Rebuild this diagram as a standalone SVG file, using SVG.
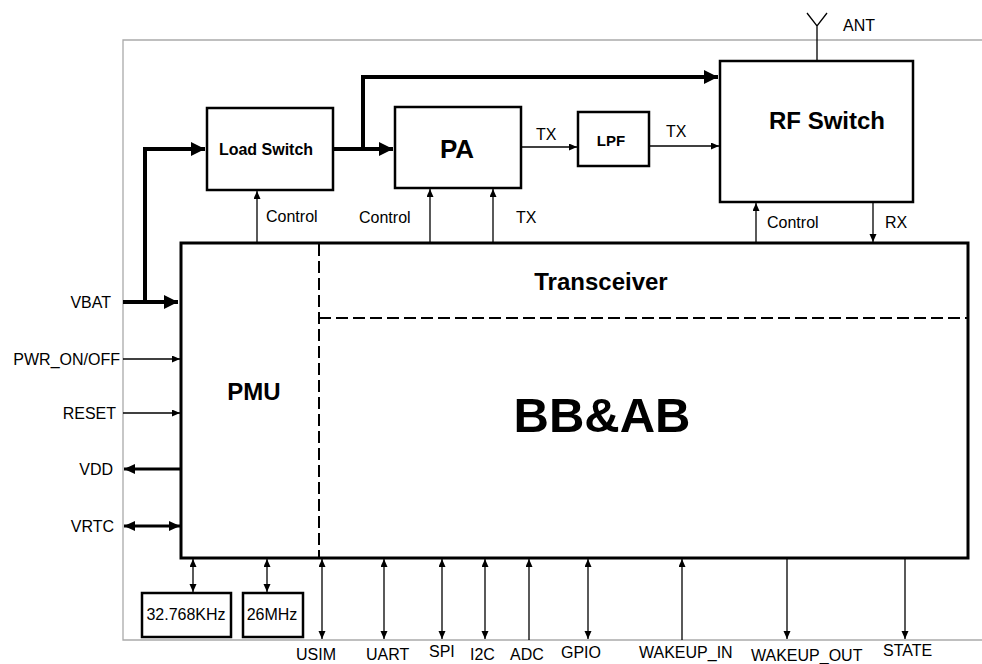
<svg xmlns="http://www.w3.org/2000/svg" width="982" height="664" viewBox="0 0 982 664">
<defs>
<style>
text{font-family:"Liberation Sans",Arial,sans-serif;fill:#000}
.lbl{font-size:16px}
.bt{font-weight:bold;text-anchor:middle}
.box{fill:#fff;stroke:#000;stroke-width:2.5}
.thin{fill:none;stroke:#000;stroke-width:1.3}
.mid{fill:none;stroke:#000;stroke-width:3}
.thick{fill:none;stroke:#000;stroke-width:4}
.dash{fill:none;stroke:#000;stroke-width:2;stroke-dasharray:12 5}
</style>
<marker id="a" markerUnits="userSpaceOnUse" markerWidth="9" markerHeight="8" refX="8" refY="3.5" orient="auto-start-reverse"><path d="M0,0 L8,3.5 L0,7 z" fill="#000"/></marker>
<marker id="m" markerUnits="userSpaceOnUse" markerWidth="12" markerHeight="11" refX="11" refY="5" orient="auto-start-reverse"><path d="M0,0 L11,5 L0,10 z" fill="#000"/></marker>
<marker id="b" markerUnits="userSpaceOnUse" markerWidth="15" markerHeight="15" refX="14" refY="7" orient="auto-start-reverse"><path d="M0,0 L14,7 L0,14 z" fill="#000"/></marker>
</defs>
<rect width="982" height="664" fill="#fff"/>
<path d="M982,40 H123 V640 H982" fill="none" stroke="#aaa" stroke-width="1.3"/>

<g id="main">
<rect x="181" y="243" width="787" height="315" fill="#fff" stroke="#000" stroke-width="3"/>
<path class="dash" d="M319,244 V557"/>
<path class="dash" d="M319,318 H967"/>
<text x="254" y="400" class="bt" font-size="24">PMU</text>
<text x="601" y="290" class="bt" font-size="24">Transceiver</text>
<text x="602" y="432" class="bt" font-size="49">BB&amp;AB</text>
</g>

<g id="loadswitch">
<rect class="box" x="207" y="108" width="126" height="82"/>
<text x="266" y="155" class="bt" font-size="16">Load Switch</text>
</g>
<g id="pa">
<rect class="box" x="395" y="107" width="126" height="81"/>
<text x="457" y="158" class="bt" font-size="26">PA</text>
</g>
<g id="lpf">
<rect class="box" x="578" y="112" width="71" height="54"/>
<text x="611" y="146" class="bt" font-size="15">LPF</text>
</g>
<g id="rfswitch">
<rect class="box" x="720" y="61" width="193" height="141"/>
<text x="827" y="129" class="bt" font-size="24">RF Switch</text>
</g>
<g id="ant">
<path class="thin" d="M817,61 V26 M807,13 L817,26 L827,13"/>
<text x="843" y="31" class="lbl">ANT</text>
</g>
<g id="xtal32">
<rect class="box" x="142" y="593" width="89" height="44"/>
<text x="186" y="620" class="lbl" text-anchor="middle">32.768KHz</text>
</g>
<g id="xtal26">
<rect class="box" x="243" y="593" width="60" height="44"/>
<text x="272" y="620" class="lbl" text-anchor="middle">26MHz</text>
</g>

<g id="connectors">
<path class="thick" d="M123,302 H178" marker-end="url(#b)"/>
<path class="thick" d="M145,302 V149 H205" marker-end="url(#b)"/>
<path class="thick" d="M333,149 H393" marker-end="url(#b)"/>
<path class="thick" d="M363,149 V77 H718" marker-end="url(#b)"/>
<path class="thin" d="M521,147 H577" marker-end="url(#a)"/>
<path class="thin" d="M649,146 H719" marker-end="url(#a)"/>
<path class="thin" d="M257,242 V191" marker-end="url(#a)"/>
<path class="thin" d="M430,242 V189" marker-end="url(#a)"/>
<path class="thin" d="M493,242 V189" marker-end="url(#a)"/>
<path class="thin" d="M756,242 V203" marker-end="url(#a)"/>
<path class="thin" d="M873,203 V242" marker-end="url(#a)"/>
<path class="thin" d="M123,359 H180" marker-end="url(#a)"/>
<path class="thin" d="M123,413 H180" marker-end="url(#a)"/>
<path class="mid" d="M180,469 H124" marker-end="url(#m)"/>
<path class="mid" d="M124,526 H180" marker-start="url(#m)" marker-end="url(#m)"/>
<path class="thin" d="M193,559 V592" marker-start="url(#a)" marker-end="url(#a)"/>
<path class="thin" d="M267,559 V592" marker-start="url(#a)" marker-end="url(#a)"/>
<path class="thin" d="M322,559 V639" marker-start="url(#a)" marker-end="url(#a)"/>
<path class="thin" d="M384,559 V639" marker-start="url(#a)" marker-end="url(#a)"/>
<path class="thin" d="M442,559 V639" marker-start="url(#a)" marker-end="url(#a)"/>
<path class="thin" d="M485,559 V639" marker-start="url(#a)" marker-end="url(#a)"/>
<path class="thin" d="M529,640 V559" marker-end="url(#a)"/>
<path class="thin" d="M588,559 V639" marker-start="url(#a)" marker-end="url(#a)"/>
<path class="thin" d="M682,640 V559" marker-end="url(#a)"/>
<path class="thin" d="M787,559 V639" marker-end="url(#a)"/>
<path class="thin" d="M905,559 V639" marker-end="url(#a)"/>
</g>

<g id="labels">
<text x="266" y="222" class="lbl">Control</text>
<text x="359" y="223" class="lbl">Control</text>
<text x="516" y="223" class="lbl">TX</text>
<text x="536" y="140" class="lbl">TX</text>
<text x="666" y="137" class="lbl">TX</text>
<text x="767" y="228" class="lbl">Control</text>
<text x="885" y="228" class="lbl">RX</text>
<g text-anchor="end">
<text x="111" y="308" class="lbl">VBAT</text>
<text x="120" y="365" class="lbl">PWR_ON/OFF</text>
<text x="116" y="419" class="lbl">RESET</text>
<text x="113" y="475" class="lbl">VDD</text>
<text x="114" y="532" class="lbl">VRTC</text>
</g>
<text x="296" y="660" class="lbl">USIM</text>
<text x="366" y="660" class="lbl">UART</text>
<text x="429" y="657" class="lbl">SPI</text>
<text x="470" y="660" class="lbl">I2C</text>
<text x="510" y="660" class="lbl">ADC</text>
<text x="561" y="658" class="lbl">GPIO</text>
<text x="639" y="658" class="lbl">WAKEUP_IN</text>
<text x="751" y="661" class="lbl">WAKEUP_OUT</text>
<text x="883" y="656" class="lbl">STATE</text>
</g>
</svg>
